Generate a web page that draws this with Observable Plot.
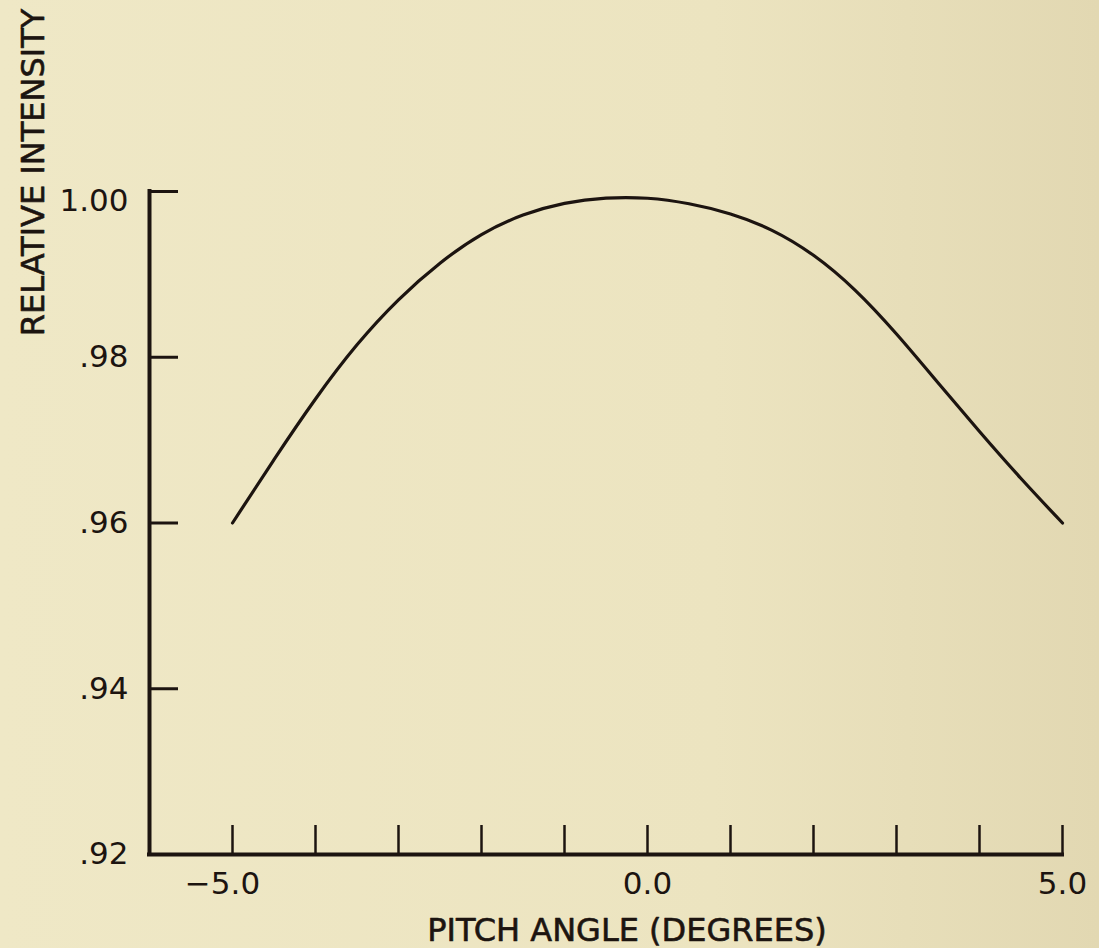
<!DOCTYPE html>
<html>
<head>
<meta charset="utf-8">
<script src="https://cdn.jsdelivr.net/npm/d3@7"></script>
<script src="https://cdn.jsdelivr.net/npm/@observablehq/plot@0.6"></script>
<style>
  html, body { margin: 0; padding: 0; }
  body {
    width: 1099px; height: 948px; overflow: hidden;
    background: linear-gradient(to right, #efe8c6 0%, #ece4c0 65%, #e2d8b2 100%);
  }
  svg { display: block; }
</style>
</head>
<body>
<div id="chart"></div>
<script>
// Data
const pitchAngle   = [-5.0, -4.5, -4.0, -3.5, -3.0, -2.5, -2.0, -1.5, -1.0, -0.5, 0.0, 0.5, 1.0, 1.5, 2.0, 2.5, 3.0, 3.5, 4.0, 4.5, 5.0];
const relIntensity = [0.9600, 0.9677, 0.9751, 0.9817, 0.9871, 0.9915, 0.9950, 0.9973, 0.9987, 0.9993, 0.9993, 0.9986, 0.9974, 0.9955, 0.9925, 0.9883, 0.9829, 0.9769, 0.9710, 0.9653, 0.9600];

const xTickValues = [-5, -4, -3, -2, -1, 0, 1, 2, 3, 4, 5];
const yTickValues = [0.92, 0.94, 0.96, 0.98, 1.00];
const xLabelValues = [-5, 0, 5];
const xLabelText = ["\u22125.0", "0.0", "5.0"];
const yLabelText = [".92", ".94", ".96", ".98", "1.00"];
const xTitle = "PITCH ANGLE (DEGREES)";
const yTitle = "RELATIVE INTENSITY";

const data = pitchAngle.map((x, i) => ({x, y: relIntensity[i]}));
const ink = "#1c1410";

const W = 1099, H = 948, mL = 149, mR = 37, mT = 191, mB = 94;
const plotW = W - mL - mR, plotH = H - mT - mB;

const fmtX = d => xLabelText[xLabelValues.indexOf(d)];
const fmtY = d => yLabelText[yTickValues.findIndex(v => Math.abs(v - d) < 1e-9)];
const txt = {fill: ink, stroke: ink, strokeWidth: 0.6};

const chart = Plot.plot({
  width: W, height: H,
  marginLeft: mL, marginRight: mR, marginTop: mT, marginBottom: mB,
  style: {background: "transparent", fontFamily: "'DejaVu Sans', sans-serif", fontSize: "31px", color: ink},
  x: {domain: [-6, 5], label: null},
  y: {domain: [0.92, 1.00], label: null},
  marks: [
    // axis lines
    Plot.ruleX([-6], {stroke: ink, strokeWidth: 4, strokeLinecap: "square"}),
    Plot.ruleY([0.92], {stroke: ink, strokeWidth: 4, strokeLinecap: "square"}),
    // inward ticks
    Plot.ruleX(xTickValues, {stroke: ink, strokeWidth: 2.5, insetTop: plotH - 29}),
    Plot.ruleY(yTickValues, {stroke: ink, strokeWidth: 3, insetRight: plotW - 29}),
    // tick labels
    Plot.axisX([-5], {label: null, tickSize: 0, tickPadding: 17, tickFormat: fmtX, fontSize: 31, ...txt, dx: -10}),
    Plot.axisX([0, 5], {label: null, tickSize: 0, tickPadding: 17, tickFormat: fmtX, fontSize: 31, ...txt}),
    Plot.axisY([0.92, 0.94, 0.96, 0.98], {label: null, tickSize: 0, tickPadding: 21, tickFormat: fmtY, fontSize: 31, ...txt}),
    Plot.axisY([1.00], {label: null, tickSize: 0, tickPadding: 21, tickFormat: fmtY, fontSize: 31, ...txt, dy: 10}),
    // axis titles
    Plot.text([xTitle], {frameAnchor: "bottom", lineAnchor: "bottom", dy: 86, dx: 21, fontSize: 32, ...txt}),
    Plot.text([yTitle], {frameAnchor: "top-left", rotate: -90, textAnchor: "middle", lineAnchor: "bottom", dx: -106, dy: -19, fontSize: 32, ...txt}),
    // curve
    Plot.line(data, {x: "x", y: "y", curve: "basis", stroke: ink, strokeWidth: 3.2, strokeLinecap: "round"})
  ]
});
document.getElementById("chart").append(chart);
</script>
</body>
</html>
